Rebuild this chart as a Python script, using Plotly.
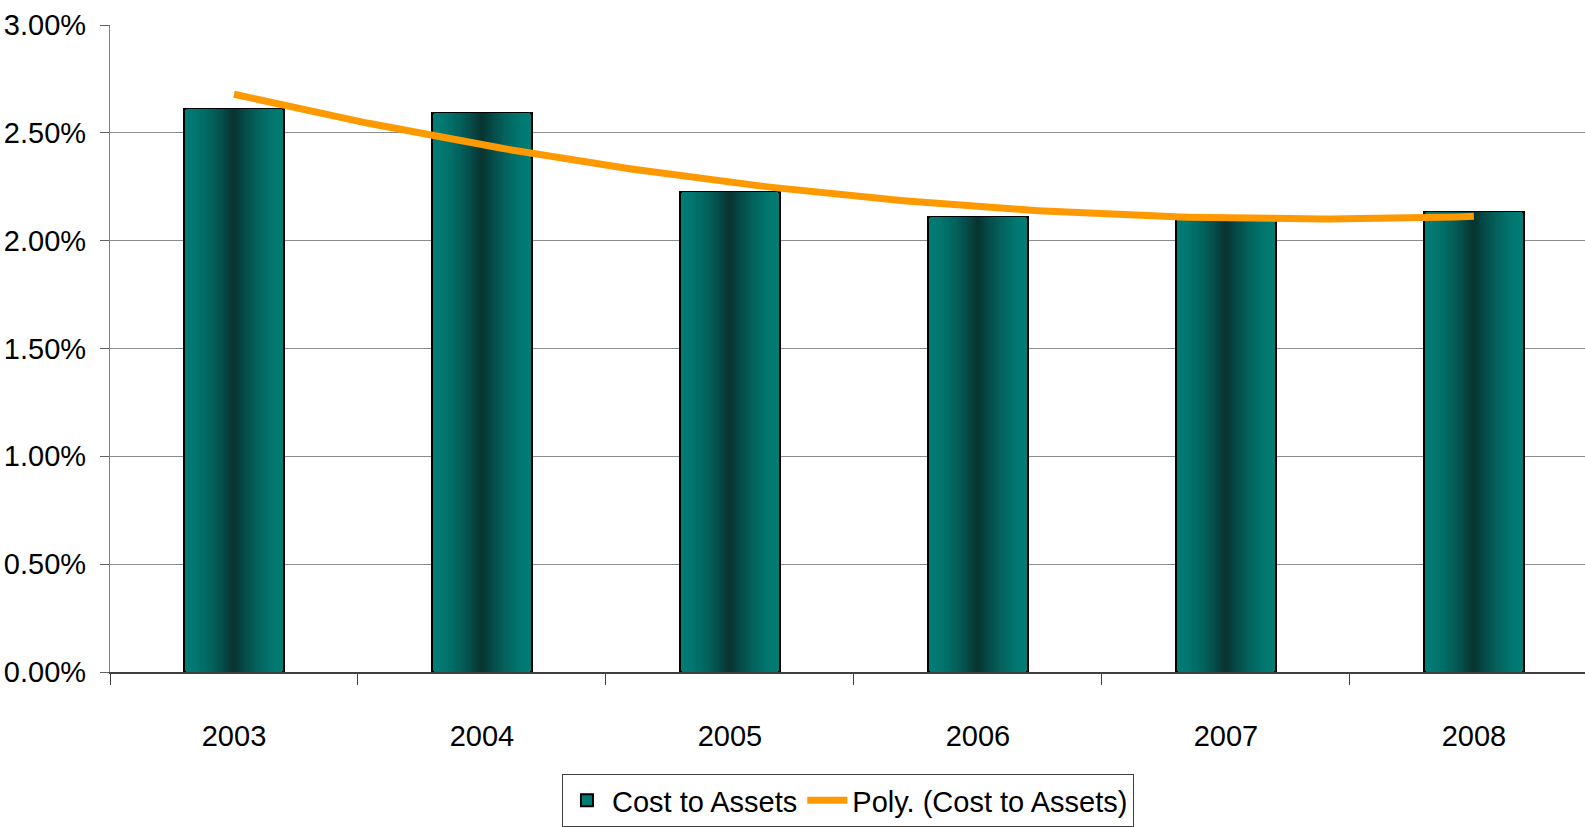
import numpy as np
import plotly.graph_objects as go

# Data
years = ["2003", "2004", "2005", "2006", "2007", "2008"]
cost_to_assets = [0.0261, 0.0259, 0.02226, 0.02108, 0.0210, 0.02135]
y_ticks = [0.0, 0.005, 0.010, 0.015, 0.020, 0.025, 0.030]

FONT = "Liberation Sans Narrow, Arial Narrow, Liberation Sans, Arial, sans-serif"
EDGE = np.array([0, 124, 117])
CORE = np.array([8, 48, 46])

fig = go.Figure()

# Cylinder-like shading: stacked bars of shrinking width, darker toward the centre
n_layers = 26
for k in range(n_layers):
    frac = 1.0 - k / n_layers          # width fraction of this layer
    t = (1.0 - frac) ** 1.6             # darkness increases toward the centre
    r, g, b = (EDGE + (CORE - EDGE) * t).round().astype(int)
    first = k == 0
    fig.add_trace(go.Bar(
        x=years, y=cost_to_assets,
        width=0.4 * frac,
        marker=dict(color=f"rgb({r},{g},{b})",
                    line=dict(color="black", width=2 if first else 0)),
        name="Cost to Assets",
        legendgroup="bars",
        showlegend=first,
        hoverinfo="skip" if not first else None,
    ))

# Second-order polynomial trend through the bar values
idx = np.arange(len(years))
coef = np.polyfit(idx, cost_to_assets, 2)
xs = np.linspace(0, len(years) - 1, 200)
fig.add_trace(go.Scatter(
    x=xs, y=np.polyval(coef, xs),
    mode="lines", xaxis="x2",
    line=dict(color="#FF9900", width=7),
    name="Poly. (Cost to Assets)",
))

x_range = [-0.5, 5.448]
fig.update_layout(
    width=1585, height=827,
    margin=dict(l=110, r=0, t=25, b=143),
    paper_bgcolor="white", plot_bgcolor="white",
    barmode="overlay", bargap=0,
    font=dict(family=FONT, size=29, color="black"),
    xaxis=dict(
        type="category", range=x_range,
        tickson="boundaries", ticks="outside", ticklen=11, tickcolor="#404040",
        showgrid=False, showline=True, linecolor="#404040", linewidth=1.5,
        ticklabelstandoff=37,
        tickfont=dict(family=FONT, size=29),
    ),
    xaxis2=dict(overlaying="x", range=x_range, visible=False),
    yaxis=dict(
        range=[0, 0.03], tickvals=y_ticks, tickformat=".2%",
        ticks="outside", ticklen=9, tickcolor="#606060",
        showgrid=True, gridcolor="#8c8c8c", gridwidth=1.3,
        showline=True, linecolor="#808080", linewidth=1.3,
        zeroline=False, ticklabelstandoff=8,
        tickfont=dict(family=FONT, size=29),
    ),
    legend=dict(
        orientation="h", x=0.3064, xanchor="left", y=-0.158, yanchor="top",
        bordercolor="#404040", borderwidth=1, bgcolor="white",
        font=dict(family=FONT, size=29), itemwidth=40,
    ),
)

fig.write_html("out.html")
